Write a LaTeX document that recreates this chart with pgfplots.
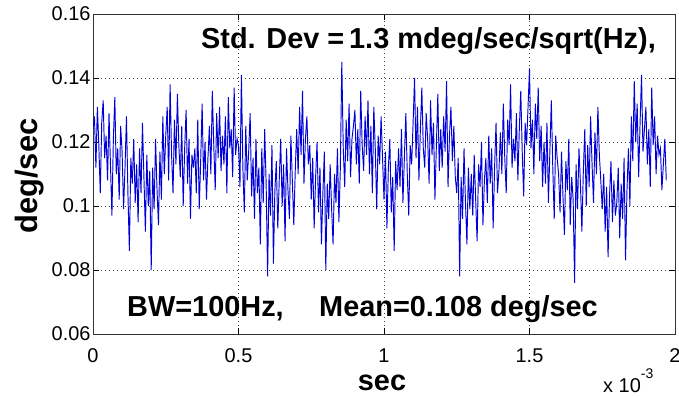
\documentclass[border=0pt]{standalone}
\usepackage{pgfplots}
\pgfplotsset{compat=1.18}
\usepackage{pgfplotstable}
\usepackage{fontspec}
\setmainfont{Liberation Sans}

\pgfplotstableread{
y
0.124
0.128
0.112
0.131
0.119
0.104
0.126
0.133
0.115
0.122
0.108
0.129
0.113
0.097
0.121
0.134
0.110
0.118
0.102
0.125
0.117
0.099
0.112
0.128
0.104
0.086
0.115
0.107
0.121
0.101
0.113
0.095
0.118
0.104
0.126
0.109
0.092
0.116
0.100
0.111
0.080
0.112
0.099
0.121
0.105
0.094
0.117
0.102
0.128
0.110
0.122
0.131
0.108
0.138
0.116
0.104
0.127
0.113
0.135
0.119
0.109
0.125
0.100
0.118
0.130
0.107
0.121
0.096
0.116
0.112
0.118
0.104
0.127
0.099
0.114
0.132
0.108
0.120
0.102
0.115
0.125
0.110
0.136
0.119
0.105
0.129
0.115
0.131
0.111
0.122
0.113
0.128
0.104
0.134
0.118
0.124
0.109
0.137
0.116
0.121
0.119
0.106
0.141
0.112
0.098
0.125
0.108
0.117
0.129
0.103
0.115
0.096
0.121
0.104
0.112
0.088
0.118
0.101
0.124
0.107
0.078
0.110
0.097
0.119
0.082
0.105
0.114
0.093
0.108
0.121
0.100
0.113
0.089
0.118
0.105
0.096
0.122
0.108
0.094
0.111
0.124
0.110
0.131
0.116
0.136
0.107
0.121
0.128
0.113
0.119
0.102
0.115
0.093
0.109
0.120
0.098
0.112
0.088
0.104
0.117
0.080
0.107
0.096
0.113
0.099
0.088
0.110
0.101
0.118
0.095
0.112
0.145
0.118
0.106
0.127
0.114
0.132
0.109
0.121
0.125
0.130
0.113
0.124
0.107
0.136
0.119
0.111
0.128
0.116
0.133
0.110
0.125
0.104
0.131
0.118
0.099
0.122
0.113
0.128
0.115
0.102
0.117
0.093
0.112
0.121
0.098
0.109
0.086
0.114
0.105
0.118
0.106
0.124
0.101
0.115
0.129
0.110
0.097
0.119
0.113
0.126
0.140
0.115
0.131
0.108
0.124
0.137
0.118
0.112
0.129
0.121
0.107
0.133
0.116
0.126
0.102
0.119
0.135
0.111
0.124
0.112
0.128
0.117
0.139
0.106
0.122
0.131
0.114
0.125
0.109
0.104
0.115
0.078
0.109
0.096
0.118
0.101
0.088
0.112
0.099
0.110
0.097
0.116
0.102
0.089
0.113
0.106
0.120
0.094
0.108
0.115
0.101
0.122
0.107
0.118
0.093
0.112
0.126
0.104
0.111
0.123
0.110
0.132
0.115
0.104
0.127
0.119
0.138
0.112
0.121
0.114
0.129
0.108
0.124
0.136
0.117
0.103
0.126
0.119
0.131
0.143
0.118
0.127
0.110
0.132
0.121
0.137
0.114
0.125
0.106
0.120
0.107
0.126
0.101
0.117
0.133
0.112
0.096
0.122
0.115
0.110
0.098
0.117
0.103
0.091
0.114
0.105
0.121
0.094
0.109
0.102
0.076
0.113
0.099
0.118
0.107
0.092
0.111
0.124
0.100
0.119
0.106
0.128
0.113
0.101
0.123
0.110
0.131
0.116
0.108
0.099
0.110
0.092
0.106
0.084
0.103
0.114
0.095
0.108
0.097
0.101
0.112
0.090
0.107
0.096
0.115
0.083
0.105
0.118
0.100
0.128
0.114
0.139
0.120
0.132
0.109
0.126
0.141
0.117
0.124
0.131
0.113
0.124
0.106
0.137
0.119
0.128
0.110
0.122
0.116
0.118
0.105
0.113
0.121
0.108
}\noisedata

\begin{document}
\begin{tikzpicture}
\useasboundingbox (0,0) rectangle (679bp,398bp);
\begin{axis}[
  at={(93bp,64bp)}, anchor=south west,
  scale only axis, width=582bp, height=320bp,
  xmin=0, xmax=2, ymin=0.06, ymax=0.16,
  xtick={0,0.5,1,1.5,2},
  xticklabels={0,0.5,1,1.5,2},
  ytick={0.06,0.08,0.1,0.12,0.14,0.16},
  yticklabels={0.06,0.08,0.1,0.12,0.14,0.16},
  tick pos=both, tick align=inside,
  major tick length=6bp,
  every tick/.style={black, line width=0.8bp},
  axis line style={black!80, line width=0.9bp},
  grid=major,
  major grid style={black!75, line width=0.7bp, dash pattern=on 1bp off 3bp},
  ticklabel style={font=\fontsize{20}{24}\selectfont},
  xticklabel style={yshift=-11bp},
  yticklabel style={xshift=1bp},
  /pgf/number format/assume math mode=true,
]
\addplot[blue!85!black, line width=0.95bp, mark=none] table[x expr=\coordindex*0.005, y=y] {\noisedata};
\end{axis}
\node[anchor=base west, inner sep=0, font=\fontsize{29}{32}\selectfont\bfseries] at (201bp,349bp) {Std. Dev =\,1.3 mdeg/sec/sqrt(Hz),};
\node[anchor=base west, inner sep=0, font=\fontsize{29}{32}\selectfont\bfseries] at (127bp,81bp) {BW=100Hz,};
\node[anchor=base west, inner sep=0, font=\fontsize{29}{32}\selectfont\bfseries] at (319bp,81bp) {Mean=0.108 deg/sec};
\node[anchor=base, inner sep=0, rotate=90, font=\fontsize{31}{34}\selectfont\bfseries] at (37bp,222bp) {deg/sec};
\node[anchor=base, inner sep=0, font=\fontsize{29}{32}\selectfont\bfseries] at (382bp,8bp) {sec};
\node[anchor=base west, inner sep=0, font=\fontsize{20}{24}\selectfont] at (603bp,6bp) {x 10\raisebox{14bp}{\fontsize{14}{16}\selectfont -3}};
\end{tikzpicture}
\end{document}
